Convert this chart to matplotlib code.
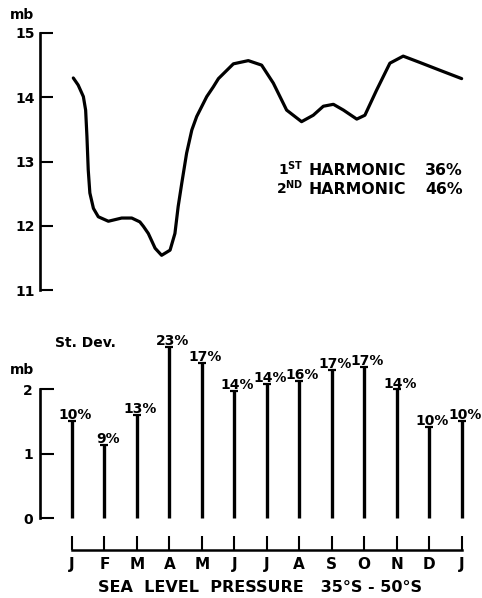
import matplotlib
matplotlib.use("Agg")
import matplotlib.pyplot as plt

plt.rcParams["font.family"] = ["DejaVu Sans"]
plt.rcParams["font.weight"] = "bold"
plt.rcParams["mathtext.default"] = "bf"

# Mean annual course of sea level pressure (mb), months from Jan (0) to next Jan (12)
curve_month = [0.04, 0.19, 0.35, 0.42, 0.46, 0.50, 0.55, 0.66, 0.81, 1.12, 1.53,
               1.84, 2.09, 2.20, 2.35, 2.56, 2.76, 3.02, 3.17, 3.27, 3.38, 3.53,
               3.69, 3.84, 4.15, 4.35, 4.51, 4.97, 5.43, 5.84, 6.20, 6.61, 7.07,
               7.43, 7.74, 8.05, 8.36, 8.77, 9.02, 9.38, 9.79, 10.20, 10.72,
               11.33, 12.00]
curve_mb = [14.30, 14.19, 14.01, 13.80, 13.39, 12.87, 12.51, 12.27, 12.14, 12.07,
            12.12, 12.12, 12.06, 11.99, 11.88, 11.65, 11.54, 11.62, 11.88, 12.30,
            12.66, 13.13, 13.49, 13.70, 14.01, 14.16, 14.29, 14.52, 14.57, 14.50,
            14.22, 13.80, 13.62, 13.72, 13.86, 13.89, 13.80, 13.66, 13.72, 14.11,
            14.53, 14.64, 14.54, 14.42, 14.29]

# Standard deviation per month
months = ["J", "F", "M", "A", "M", "J", "J", "A", "S", "O", "N", "D", "J"]
std_dev = [1.51, 1.14, 1.60, 2.66, 2.41, 1.98, 2.08, 2.13, 2.30, 2.35, 2.00, 1.42, 1.51]
std_pct = ["10%", "9%", "13%", "23%", "17%", "14%", "14%", "16%", "17%", "17%",
           "14%", "10%", "10%"]

W, H = 482, 598
fig = plt.figure(figsize=(W / 100, H / 100), dpi=100)

# pixel -> month mapping shared by all panels
px_per_month = 32.47
x0_px = 72
xlim = (-x0_px / px_per_month, (W - x0_px) / px_per_month)
spine_x = (40 - x0_px) / px_per_month


def fy(py):
    return 1 - py / H


# ---- top panel: pressure curve ----
ax1 = fig.add_axes([0, fy(300), 1, 300 / H])
ax1.plot(curve_month, curve_mb, color="black", lw=2.3, solid_joinstyle="round",
         solid_capstyle="round")
ax1.set_xlim(*xlim)
ax1.set_ylim(15 - 267 / 64.25, 15 + 33 / 64.25)
for s in ["top", "right", "bottom"]:
    ax1.spines[s].set_visible(False)
ax1.spines["left"].set_position(("data", spine_x))
ax1.spines["left"].set_bounds(11, 15)
ax1.spines["left"].set_linewidth(1.9)
ax1.set_yticks([11, 12, 13, 14, 15])
ax1.set_xticks([])
ax1.tick_params(axis="y", direction="in", length=9.5, width=1.5, pad=4, labelsize=10)
fig.text(22 / W, fy(15), "mb", ha="center", va="center", fontsize=10)

# harmonic annotations
for py, ordn, pct in [(175, "1$^{\\mathbf{ST}}$", "36%"), (194, "2$^{\\mathbf{ND}}$", "46%")]:
    fig.text(303 / W, fy(py), ordn, ha="right", va="baseline", fontsize=10)
    fig.text(309 / W, fy(py), "HARMONIC", ha="left", va="baseline", fontsize=11.3)
    fig.text(463 / W, fy(py), pct, ha="right", va="baseline", fontsize=11.3)

# ---- bottom panel: standard deviation stems ----
ax2 = fig.add_axes([0, fy(530), 1, 230 / H])
xs = list(range(len(months)))
ax2.vlines(xs, 0, std_dev, color="black", lw=2.4)
ax2.plot(xs, std_dev, ls="none", marker="_", ms=6, mew=1.6, color="black")
for x, v, lab in zip(xs, std_dev, std_pct):
    ax2.text(x + 0.1, v - 0.02, lab, ha="center", va="bottom", fontsize=10)
ax2.set_xlim(*xlim)
ax2.set_ylim(-(530 - 518.3) / 64.5, (518.3 - 300) / 64.5)
for s in ["top", "right", "bottom"]:
    ax2.spines[s].set_visible(False)
ax2.spines["left"].set_position(("data", spine_x))
ax2.spines["left"].set_bounds(0, 2)
ax2.spines["left"].set_linewidth(1.9)
ax2.set_yticks([0, 1, 2])
ax2.set_xticks([])
ax2.tick_params(axis="y", direction="in", length=10, width=1.5, pad=5, labelsize=10)
fig.text(22 / W, fy(370), "mb", ha="center", va="center", fontsize=10)
fig.text(55 / W, fy(347), "St. Dev.", ha="left", va="baseline", fontsize=10)

# ---- month axis ----
ax3 = fig.add_axes([0, fy(550), 1, 20 / H])
ax3.set_xlim(*xlim)
ax3.set_ylim(0, 1)
for s in ["top", "right", "left"]:
    ax3.spines[s].set_visible(False)
ax3.spines["bottom"].set_bounds(0, 12)
ax3.spines["bottom"].set_linewidth(1.8)
ax3.set_yticks([])
ax3.set_xticks(xs)
ax3.set_xticklabels(months, fontsize=11)
ax3.tick_params(axis="x", direction="in", length=10, width=1.5, pad=5)
ax3.patch.set_visible(False)

fig.text(260 / W, fy(587), "SEA  LEVEL  PRESSURE   35°S - 50°S", ha="center",
         va="center", fontsize=11.5)

fig.savefig("out.png", dpi=100)
